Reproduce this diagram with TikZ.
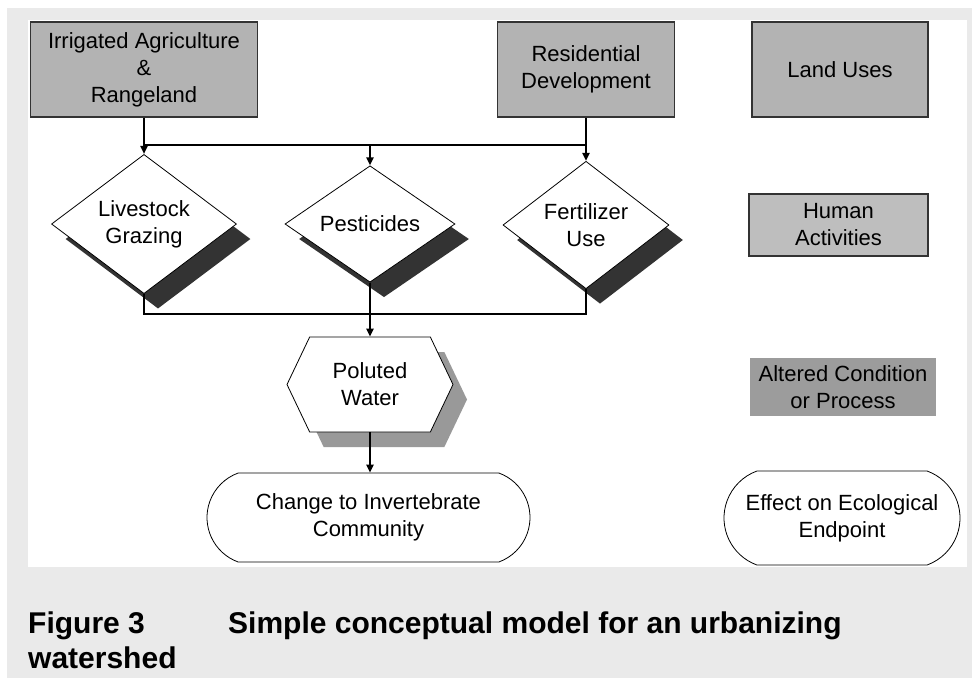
\documentclass[tikz,border=0pt]{standalone}
\usepackage{fontspec}
\setmainfont{Liberation Sans}
\usetikzlibrary{shapes.geometric,shapes.symbols,shapes.misc,shadows,arrows.meta}
\definecolor{bggray}{HTML}{EAEAEA}
\definecolor{boxgray}{HTML}{B3B3B3}
\definecolor{humgray}{HTML}{BEBEBE}
\definecolor{altgray}{HTML}{9C9C9C}
\definecolor{darkshadow}{HTML}{333333}
\definecolor{hexshadow}{HTML}{999999}
\definecolor{edgegray}{HTML}{333333}
\begin{document}
\begin{tikzpicture}[x=1pt,y=-1pt,
  txt/.style={font=\fontsize{22}{27}\selectfont, align=center, inner sep=0pt},
  landbox/.style={txt, rectangle, draw=edgegray, line width=1.2pt, fill=boxgray},
  actbox/.style={txt, diamond, draw=black, line width=0.8pt, fill=white,
    drop shadow={shadow xshift=14pt, shadow yshift=-15pt, fill=darkshadow, opacity=1}},
  condbox/.style={txt, signal, signal to=east and west, signal pointer angle=129,
    draw=black, line width=0.8pt, fill=white,
    drop shadow={shadow xshift=14pt, shadow yshift=-15pt, fill=hexshadow, opacity=1}},
  endbox/.style={txt, rounded rectangle, rounded rectangle arc length=140,
    draw=black, line width=0.8pt, fill=white},
  conn/.style={line width=2pt, draw=black},
  arr/.style={conn, -{Triangle[length=8pt,width=7pt]}},
  capt/.style={font=\fontsize{30}{36}\selectfont\bfseries, inner sep=0pt, anchor=base west}
]
\useasboundingbox (0,0) rectangle (972,678);
\fill[white] (0,0) rectangle (972,678);
\fill[bggray] (7,8) rectangle (972,678);
\fill[white] (28,20) rectangle (967,567);

% land uses
\node[landbox, minimum width=227pt, minimum height=95pt] (irr) at (144,69.5) {Irrigated Agriculture\\\&\\Rangeland};
\node[landbox, minimum width=177pt, minimum height=95pt] (res) at (586,69.5) {Residential\\Development};

% legend
\node[landbox, minimum width=176pt, minimum height=95pt] (land) at (840,69.5) {Land Uses};
\node[landbox, fill=humgray, minimum width=179pt, minimum height=62pt] (hum) at (838.5,225) {Human\\Activities};
\node[txt, fill=altgray, minimum width=186pt, minimum height=58pt] (alt) at (843,387) {Altered Condition\\or Process};
\node[endbox, minimum width=236pt, minimum height=94pt] (eff) at (842,518) {Effect on Ecological\\Endpoint};

% human activities
\node[actbox, minimum width=185pt, minimum height=108pt] (ls) at (144,224) {Livestock\\Grazing};
\node[actbox, minimum width=170pt, minimum height=98pt] (pes) at (370,224) {Pesticides};
\node[actbox, minimum width=166pt, minimum height=100pt] (fer) at (586,225) {Fertilizer\\Use};

% condition and endpoint
\node[condbox, minimum width=166pt, minimum height=95pt] (hex) at (370,384.5) {Poluted\\Water};
\node[endbox, minimum width=323pt, minimum height=89pt] (chg) at (368.5,517.5) {Change to Invertebrate\\Community};

% connectors
\coordinate (topbar) at (0,145);
\coordinate (botbar) at (0,314);
\draw[arr] (irr.south) -- (irr.south |- ls.north);
\draw[arr] (res.south) -- (res.south |- fer.north);
\draw[conn] (irr.south |- topbar) -- (res.south |- topbar);
\draw[arr] (pes.north |- topbar) -- (pes.north);
\draw[conn] (ls.south) -- (ls.south |- botbar) -- (fer.south |- botbar) -- (fer.south);
\draw[arr] (pes.south) -- (pes.south |- hex.north);
\draw[arr] (hex.south) -- (hex.south |- chg.north);

% caption
\node[capt] (fig) at (28,633) {Figure 3};
\node[capt] (title) at (228,633) {Simple conceptual model for an urbanizing};
\node[capt] (title2) at (28,668) {watershed};
\end{tikzpicture}
\end{document}
